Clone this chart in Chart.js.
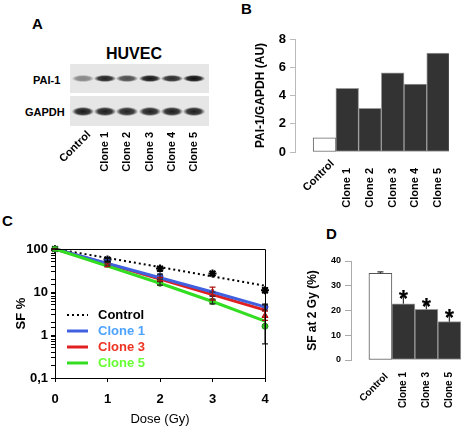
<!DOCTYPE html>
<html><head><meta charset="utf-8">
<script src="https://cdn.jsdelivr.net/npm/chart.js@4.4.0/dist/chart.umd.min.js"></script>
<style>
body{margin:0;background:#fff;}
#wrap{position:relative;width:465px;height:430px;overflow:hidden;font-family:"Liberation Sans",Arial,sans-serif;background:#fff;}
.plab{position:absolute;font-weight:bold;font-size:15px;line-height:15px;color:#000;}
.txt{position:absolute;font-weight:bold;color:#000;white-space:nowrap;}
canvas{position:absolute;}
.strip{position:absolute;background:#e6e6e6;}
.band{position:absolute;}
</style></head><body>
<div id="wrap">
  <div class="plab" style="left:32px;top:16px;">A</div>
  <div class="plab" style="left:241px;top:1px;">B</div>
  <div class="plab" style="left:2px;top:213px;">C</div>
  <div class="plab" style="left:326px;top:226px;">D</div>
  <div class="txt" style="left:106px;top:45px;font-size:16px;">HUVEC</div>
  <div class="txt" style="left:33px;top:74px;font-size:11px;">PAI-1</div>
  <div class="txt" style="left:25px;top:106px;font-size:11px;">GAPDH</div>
  <div id="blot"></div>
  <canvas id="cA" width="240" height="60" style="left:0;top:125px;width:240px;height:60px;"></canvas>
  <canvas id="cB" width="225" height="200" style="left:240px;top:20px;width:225px;height:200px;"></canvas>
  <canvas id="cC" width="300" height="230" style="left:0;top:200px;width:300px;height:230px;"></canvas>
  <canvas id="cD" width="165" height="220" style="left:300px;top:210px;width:165px;height:220px;"></canvas>
</div>
<script>
// ---------- DATA ----------
const blotLanes = ['Control','Clone 1','Clone 2','Clone 3','Clone 4','Clone 5'];
const pai1Band = [0.45, 0.92, 0.72, 0.97, 0.88, 1.0];
const gapdhBand = [0.95, 0.93, 0.9, 0.92, 0.93, 0.93];

const ratioCategories = ['Control','Clone 1','Clone 2','Clone 3','Clone 4','Clone 5'];
const ratioValues = [1.0, 4.5, 3.1, 5.6, 4.8, 7.0];
const ratioTicks = [0, 2, 4, 6, 8];

const doses = [0, 1, 2, 3, 4];
const sfTickLabels = ['0,1', '1', '10', '100'];
const fitControl = [100, 62, 38, 23, 14];
const fitClone1 = [100, 46, 21.5, 10, 4.5];
const fitClone3 = [100, 45, 20, 8.7, 3.8];
const fitClone5 = [100, 40, 16, 6, 2.1];
const ptsControl = [100, 57, 35, 27, 11];
const errLoControl = [100, 52, 31, 24, 9.5];
const errHiControl = [100, 62, 38, 30, 12.5];
const ptsClone1 = [100, 55, 23, 9, 4.5];
const errLoClone1 = [100, 50, 20, 8, 3.8];
const errHiClone1 = [100, 60, 26, 10, 5.2];
const ptsClone3 = [100, 42, 20, 10, 2.8];
const errLoClone3 = [100, 39, 18, 6.5, 2.2];
const errHiClone3 = [100, 45, 22, 13, 3.6];
const ptsClone5 = [100, 45, 16, 6, 1.6];
const errLoClone5 = [100, 42, 14.5, 5.3, 0.62];
const errHiClone5 = [100, 48, 17.5, 6.8, 5];

const sf2Categories = ['Control','Clone 1','Clone 3','Clone 5'];
const sf2Values = [35, 22.7, 20.5, 15.5];
const sf2ErrHigh = [35.6, 25.7, 22.7, 18.0];
const sf2Significant = [false, true, true, true];

// ---------- PANEL A (blot) ----------
(function(){
  const blot = document.getElementById('blot');
  const strips = [{top:64,h:29,vals:pai1Band,by:78,bh:7},{top:96,h:30,vals:gapdhBand,by:111,bh:9}];
  strips.forEach(s=>{
    const d=document.createElement('div'); d.className='strip';
    d.style.cssText=`left:70px;top:${s.top}px;width:139px;height:${s.h}px;`;
    blot.appendChild(d);
    s.vals.forEach((a,i)=>{
      const cx = 83 + i*22.2;
      const b=document.createElement('div'); b.className='band';
      const w=22;
      b.style.cssText=`left:${cx-w/2}px;top:${s.by-s.bh/2}px;width:${w}px;height:${s.bh}px;`+
        `background:radial-gradient(ellipse at center, rgba(15,15,15,${a}) 0%, rgba(15,15,15,${a*0.85}) 45%, rgba(15,15,15,0) 72%);`;
      blot.appendChild(b);
    });
  });
  const c=document.getElementById('cA').getContext('2d');
  c.font='bold 11px "Liberation Sans", Arial, sans-serif'; c.fillStyle='#000';
  blotLanes.forEach((t,i)=>{
    const cx = 83 + i*22.2;
    c.save();
    if(i===0){ c.translate(cx+6, 133-125); c.rotate(-Math.PI/4); }
    else { c.translate(cx, 132-125); c.rotate(-Math.PI/2); }
    c.textAlign='right'; c.textBaseline='middle'; c.fillText(t,0,0); c.restore();
  });
})();

// ---------- plugins ----------
const laneLabels = {
  id:'laneLabels',
  afterDraw(chart, args, o){
    if(!o || !o.labels) return;
    const ctx=chart.ctx, xs=chart.scales.x, bottom=chart.chartArea.bottom;
    ctx.save(); ctx.font=o.font; ctx.fillStyle='#000';
    o.labels.forEach((t,i)=>{
      const x=xs.getPixelForValue(i);
      ctx.save();
      if(i===0){ ctx.translate(x+o.cdx, bottom+o.cdy); ctx.rotate(-Math.PI/4); }
      else { ctx.translate(x, bottom+o.dy); ctx.rotate(-Math.PI/2); }
      ctx.textAlign='right'; ctx.textBaseline='middle'; ctx.fillText(t,0,0); ctx.restore();
    });
    ctx.restore();
  }
};

const errBars = {
  id:'errBars',
  afterDatasetsDraw(chart){
    const ctx=chart.ctx, xs=chart.scales.x, ys=chart.scales.y;
    chart.data.datasets.forEach((ds,i)=>{
      if(!ds.errHi) return;
      ctx.save(); ctx.strokeStyle=ds.errColor||'#000'; ctx.lineWidth=1.2;
      ds.data.forEach((p,j)=>{
        const x=xs.getPixelForValue(p.x);
        const lo = ds.errLo ? ys.getPixelForValue(ds.errLo[j]) : ys.getPixelForValue(p.y);
        const hi = ys.getPixelForValue(ds.errHi[j]);
        const cw = ds.capW||3;
        ctx.beginPath(); ctx.moveTo(x,lo); ctx.lineTo(x,hi);
        ctx.moveTo(x-cw,hi); ctx.lineTo(x+cw,hi);
        if(ds.errLo){ ctx.moveTo(x-cw,lo); ctx.lineTo(x+cw,lo); }
        ctx.stroke();
        if(ds.stars && ds.stars[j]){
          ctx.fillStyle='#000'; ctx.font='bold 24px "Liberation Sans", Arial, sans-serif';
          ctx.textAlign='center'; ctx.textBaseline='alphabetic';
          ctx.fillText('*', x, hi+11);
        }
      });
      ctx.restore();
    });
  }
};

const boxPlugin = {
  id:'box',
  afterDraw(chart){
    const a=chart.chartArea, ctx=chart.ctx;
    ctx.save(); ctx.strokeStyle='#000'; ctx.lineWidth=1;
    ctx.beginPath(); ctx.moveTo(a.left, a.top+0.5); ctx.lineTo(a.right+0.5, a.top+0.5); ctx.lineTo(a.right+0.5, a.bottom); ctx.stroke();
    ctx.restore();
  }
};

const innerLegend = {
  id:'innerLegend',
  afterDraw(chart, args, o){
    const ctx=chart.ctx, a=chart.chartArea;
    ctx.save();
    o.items.forEach((it,k)=>{
      const ds=chart.data.datasets[it];
      const y=a.top+66+k*16;
      ctx.strokeStyle=ds.borderColor; ctx.lineWidth=ds.borderWidth; ctx.setLineDash(ds.borderDash||[]);
      ctx.beginPath(); ctx.moveTo(a.left+12,y); ctx.lineTo(a.left+33,y); ctx.stroke();
      ctx.setLineDash([]);
      ctx.fillStyle=ds.legendColor; ctx.font='bold 13px "Liberation Sans", Arial, sans-serif';
      ctx.textAlign='left'; ctx.textBaseline='middle';
      ctx.fillText(ds.label, a.left+43, y);
    });
    ctx.restore();
  }
};

const FONT = '"Liberation Sans", Arial, sans-serif';
const NARROW = '"Liberation Sans Narrow", "Liberation Sans", Arial, sans-serif';

// ---------- PANEL B ----------
new Chart(document.getElementById('cB'), {
  type:'bar',
  data:{ datasets:[{
    data: ratioValues.map((v,i)=>({x:i,y:v})),
    backgroundColor: ratioValues.map((v,i)=> i===0 ? '#ffffff' : '#333333'),
    borderColor: ratioValues.map((v,i)=> i===0 ? '#666666' : '#9a9a9a'),
    borderWidth: 1, borderSkipped:false,
    categoryPercentage:1, barPercentage:1
  }]},
  options:{
    responsive:false, animation:false, devicePixelRatio:1,
    layout:{padding:{top:19,right:16,left:0,bottom:0}},
    plugins:{legend:{display:false}, tooltip:{enabled:false},
      laneLabels:{labels:ratioCategories, font:'bold 11px '+FONT, dy:16, cdx:8, cdy:10}},
    scales:{
      x:{type:'linear', min:-1.3, max:5.48, offset:false,
         ticks:{display:false}, grid:{display:false, offset:false}, border:{display:false},
         afterFit(s){ s.height=68; }},
      y:{min:0, max:8,
         afterBuildTicks(s){ s.ticks = ratioTicks.map(v=>({value:v})); },
         ticks:{font:{family:FONT, weight:'bold', size:13}, color:'#000', padding:4},
         grid:{drawOnChartArea:false, tickLength:5, color:'#bbbbbb'},
         border:{color:'#bbbbbb'},
         title:{display:true, text:'PAI-1/GAPDH (AU)', color:'#000', font:{family:FONT, weight:'bold', size:12}, padding:{top:13,bottom:0}},
         afterFit(s){ s.width=55; }}
    }
  },
  plugins:[laneLabels]
});

// ---------- PANEL C ----------
const mk = (arr)=> arr.map((v,i)=>({x:doses[i], y:v}));
new Chart(document.getElementById('cC'), {
  type:'line',
  data:{ datasets:[
    {label:'Clone 5', data:mk(fitClone5), borderColor:'#33dd22', borderWidth:3, pointRadius:0, legendColor:'#66ff33', clip:false},
    {label:'Clone 1', data:mk(fitClone1), borderColor:'#4060e0', borderWidth:3, pointRadius:0, legendColor:'#4da3ff', clip:false},
    {label:'Clone 3', data:mk(fitClone3), borderColor:'#e02020', borderWidth:3, pointRadius:0, legendColor:'#ee3322', clip:false},
    {label:'Control', data:mk(fitControl), borderColor:'#000000', borderWidth:2, borderDash:[2,3], pointRadius:0, legendColor:'#000', clip:false},
    {label:'pts5', data:mk(ptsClone5), showLine:false, pointStyle:'circle', pointRadius:3, backgroundColor:'#33cc22', borderColor:'#228811', borderWidth:1, errLo:errLoClone5, errHi:errHiClone5, errColor:'#222', clip:false},
    {label:'pts1', data:mk(ptsClone1), showLine:false, pointStyle:'circle', pointRadius:3, backgroundColor:'#3355dd', borderColor:'#223399', borderWidth:1, errLo:errLoClone1, errHi:errHiClone1, errColor:'#222', clip:false},
    {label:'pts3', data:mk(ptsClone3), showLine:false, pointStyle:'triangle', pointRadius:3.5, backgroundColor:'#e02020', borderColor:'#b01010', borderWidth:1, errLo:errLoClone3, errHi:errHiClone3, errColor:'#aa1111', clip:false},
    {label:'ptsC', data:mk(ptsControl), showLine:false, pointStyle:'star', pointRadius:4, backgroundColor:'#000', borderColor:'#000', borderWidth:2, errLo:errLoControl, errHi:errHiControl, errColor:'#000', clip:false}
  ]},
  options:{
    responsive:false, animation:false, devicePixelRatio:1,
    layout:{padding:{top:49,right:35,left:0,bottom:0}},
    plugins:{legend:{display:false}, tooltip:{enabled:false},
      innerLegend:{items:[3,1,2,0]}},
    scales:{
      x:{type:'linear', min:0, max:4,
         ticks:{stepSize:1, font:{family:NARROW, weight:'bold', size:13}, color:'#000', padding:10},
         grid:{drawOnChartArea:false, tickLength:4, color:'#000'}, border:{color:'#000'},
         title:{display:true, text:'Dose (Gy)', color:'#000', font:{family:FONT, size:13}, padding:{top:0,bottom:3}},
         afterFit(s){ s.height=52; }},
      y:{type:'logarithmic', min:0.1, max:100,
         ticks:{autoSkip:false, font:{family:NARROW, weight:'bold', size:13}, color:'#000', padding:3,
           callback(v){ const l=Math.log10(v); if(Math.abs(l-Math.round(l))<1e-6){ const k=Math.round(l)+1; return sfTickLabels[k]; } return ''; }},
         grid:{drawOnChartArea:false, tickLength:4, color:'#000'}, border:{color:'#000'},
         title:{display:true, text:'SF %', color:'#000', font:{family:FONT, weight:'bold', size:13}, padding:{top:14,bottom:0}},
         afterFit(s){ s.width=55; }}
    }
  },
  plugins:[errBars, boxPlugin, innerLegend]
});

// ---------- PANEL D ----------
new Chart(document.getElementById('cD'), {
  type:'bar',
  data:{ datasets:[{
    data: sf2Values.map((v,i)=>({x:i,y:v})),
    backgroundColor: sf2Values.map((v,i)=> i===0 ? '#ffffff' : '#333333'),
    borderColor: sf2Values.map((v,i)=> i===0 ? '#555555' : '#9a9a9a'),
    borderWidth: 1, borderSkipped:false,
    categoryPercentage:1, barPercentage:1,
    errHi: sf2ErrHigh, errColor:'#333', capW:3, stars: sf2Significant
  }]},
  options:{
    responsive:false, animation:false, devicePixelRatio:1,
    layout:{padding:{top:51,right:3,left:0,bottom:0}},
    plugins:{legend:{display:false}, tooltip:{enabled:false},
      laneLabels:{labels:sf2Categories, font:'bold 10px '+FONT, dy:12, cdx:6, cdy:15}},
    scales:{
      x:{type:'linear', min:-1.28, max:3.55, offset:false,
         ticks:{display:false}, grid:{display:false, offset:false}, border:{display:false},
         afterFit(s){ s.height=70; }},
      y:{min:0, max:40,
         ticks:{stepSize:10, font:{family:FONT, weight:'bold', size:9}, color:'#000', padding:4},
         grid:{drawOnChartArea:false, tickLength:6, color:'#aaaaaa'},
         border:{color:'#aaaaaa'},
         title:{display:true, text:'SF at 2 Gy (%)', color:'#000', font:{family:FONT, weight:'bold', size:12}, padding:{top:5,bottom:0}},
         afterFit(s){ s.width=51; }}
    }
  },
  plugins:[errBars, laneLabels]
});
</script>
</body></html>
